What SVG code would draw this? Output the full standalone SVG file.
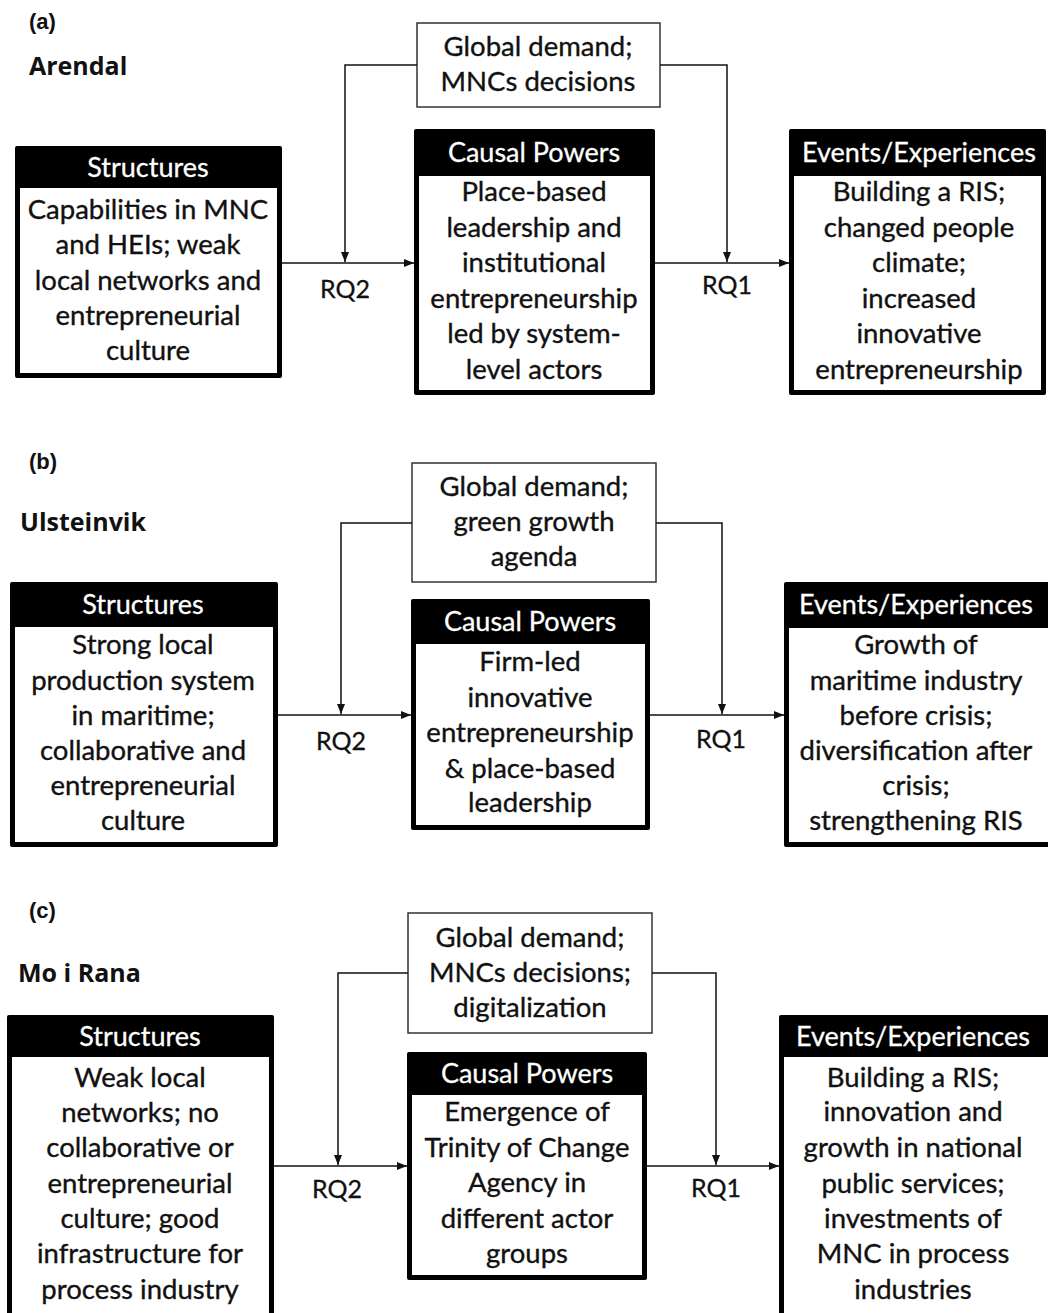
<svg xmlns="http://www.w3.org/2000/svg" width="1048" height="1313" viewBox="0 0 1048 1313">
<defs>
<marker id="ah" viewBox="0 0 10 10" refX="10" refY="5" markerWidth="10" markerHeight="10" markerUnits="userSpaceOnUse" orient="auto">
<path d="M0,1 L10,5 L0,9 Z" fill="#111"/>
</marker>
<style>
.frame{fill:#000}
.inner{fill:#fff}
.ext{fill:#fff;stroke:#333;stroke-width:1.5}
.hd{font-family:Lato,"Liberation Sans",sans-serif;font-size:27px;fill:#fff;stroke:#fff;stroke-width:0.3;text-anchor:middle}
.bd{font-family:Lato,"Liberation Sans",sans-serif;font-size:27.5px;fill:#111;stroke:#111;stroke-width:0.35;text-anchor:middle}
.rq{font-family:Lato,"Liberation Sans",sans-serif;font-size:25px;fill:#111;stroke:#111;stroke-width:0.3;text-anchor:middle}
.pl{font-family:"Liberation Sans",Arial,sans-serif;font-size:22px;font-weight:bold;fill:#111}
.city{font-family:"Open Sans","Liberation Sans",sans-serif;font-size:25px;font-weight:bold;fill:#111}
.conn{fill:none;stroke:#111;stroke-width:1.5}
</style>
</defs>
<rect width="1048" height="1313" fill="#fff"/>

<!-- Panel labels -->
<g id="labels">
<text class="pl" x="29" y="29">(a)</text>
<text class="city" x="29" y="75">Arendal</text>
<text class="pl" x="29" y="469">(b)</text>
<text class="city" x="20" y="531">Ulsteinvik</text>
<text class="pl" x="29" y="918">(c)</text>
<text class="city" x="18" y="982">Mo i Rana</text>
</g>

<!-- Panel (a) -->
<g id="a-global">
<rect class="ext" x="417" y="23" width="243" height="84"/>
<text class="bd" x="538"><tspan x="538" y="56">Global demand;</tspan><tspan x="538" y="91">MNCs decisions</tspan></text>
</g>
<g id="a-structures">
<rect class="frame" x="15" y="146" width="267" height="232" rx="2"/>
<rect class="inner" x="20" y="188" width="257" height="185"/>
<text class="hd" x="148" y="177">Structures</text>
<text class="bd"><tspan x="148" y="219">Capabilities in MNC</tspan><tspan x="148" y="254">and HEIs; weak</tspan><tspan x="148" y="290">local networks and</tspan><tspan x="148" y="325">entrepreneurial</tspan><tspan x="148" y="360">culture</tspan></text>
</g>
<g id="a-causal">
<rect class="frame" x="414" y="129" width="241" height="266" rx="2"/>
<rect class="inner" x="419" y="176" width="231" height="214"/>
<text class="hd" x="534" y="162">Causal Powers</text>
<text class="bd"><tspan x="534" y="201">Place-based</tspan><tspan x="534" y="237">leadership and</tspan><tspan x="534" y="272">institutional</tspan><tspan x="534" y="308">entrepreneurship</tspan><tspan x="534" y="343">led by system-</tspan><tspan x="534" y="379">level actors</tspan></text>
</g>
<g id="a-events">
<rect class="frame" x="789" y="129" width="257" height="266" rx="2"/>
<rect class="inner" x="794" y="176" width="247" height="214"/>
<text class="hd" x="919" y="162">Events/Experiences</text>
<text class="bd"><tspan x="919" y="201">Building a RIS;</tspan><tspan x="919" y="237">changed people</tspan><tspan x="919" y="272">climate;</tspan><tspan x="919" y="308">increased</tspan><tspan x="919" y="343">innovative</tspan><tspan x="919" y="379">entrepreneurship</tspan></text>
</g>

<!-- Panel (b) -->
<g id="b-global">
<rect class="ext" x="412" y="463" width="244" height="119"/>
<text class="bd"><tspan x="534" y="496">Global demand;</tspan><tspan x="534" y="531">green growth</tspan><tspan x="534" y="566">agenda</tspan></text>
</g>
<g id="b-structures">
<rect class="frame" x="10" y="582" width="268" height="265" rx="2"/>
<rect class="inner" x="15" y="627" width="258" height="215"/>
<text class="hd" x="143" y="614">Structures</text>
<text class="bd"><tspan x="143" y="654">Strong local</tspan><tspan x="143" y="690">production system</tspan><tspan x="143" y="725">in maritime;</tspan><tspan x="143" y="760">collaborative and</tspan><tspan x="143" y="795">entrepreneurial</tspan><tspan x="143" y="830">culture</tspan></text>
</g>
<g id="b-causal">
<rect class="frame" x="411" y="599" width="239" height="231" rx="2"/>
<rect class="inner" x="416" y="644" width="229" height="181"/>
<text class="hd" x="530" y="631">Causal Powers</text>
<text class="bd"><tspan x="530" y="671">Firm-led</tspan><tspan x="530" y="707">innovative</tspan><tspan x="530" y="742">entrepreneurship</tspan><tspan x="530" y="778">&amp; place-based</tspan><tspan x="530" y="812">leadership</tspan></text>
</g>
<g id="b-events">
<rect class="frame" x="784" y="582" width="270" height="265" rx="2"/>
<rect class="inner" x="789" y="628" width="265" height="214"/>
<text class="hd" x="916" y="614">Events/Experiences</text>
<text class="bd"><tspan x="916" y="654">Growth of</tspan><tspan x="916" y="690">maritime industry</tspan><tspan x="916" y="725">before crisis;</tspan><tspan x="916" y="760">diversification after</tspan><tspan x="916" y="795">crisis;</tspan><tspan x="916" y="830">strengthening RIS</tspan></text>
</g>

<!-- Panel (c) -->
<g id="c-global">
<rect class="ext" x="408" y="913" width="244" height="120"/>
<text class="bd"><tspan x="530" y="947">Global demand;</tspan><tspan x="530" y="982">MNCs decisions;</tspan><tspan x="530" y="1017">digitalization</tspan></text>
</g>
<g id="c-structures">
<rect class="frame" x="7" y="1015" width="267" height="310" rx="2"/>
<rect class="inner" x="12" y="1057" width="257" height="270"/>
<text class="hd" x="140" y="1046">Structures</text>
<text class="bd"><tspan x="140" y="1087">Weak local</tspan><tspan x="140" y="1122">networks; no</tspan><tspan x="140" y="1157">collaborative or</tspan><tspan x="140" y="1193">entrepreneurial</tspan><tspan x="140" y="1228">culture; good</tspan><tspan x="140" y="1263">infrastructure for</tspan><tspan x="140" y="1299">process industry</tspan></text>
</g>
<g id="c-causal">
<rect class="frame" x="407" y="1052" width="240" height="228" rx="2"/>
<rect class="inner" x="412" y="1095" width="230" height="180"/>
<text class="hd" x="527" y="1083">Causal Powers</text>
<text class="bd"><tspan x="527" y="1121">Emergence of</tspan><tspan x="527" y="1157">Trinity of Change</tspan><tspan x="527" y="1192">Agency in</tspan><tspan x="527" y="1228">different actor</tspan><tspan x="527" y="1263">groups</tspan></text>
</g>
<g id="c-events">
<rect class="frame" x="779" y="1015" width="275" height="310" rx="2"/>
<rect class="inner" x="784" y="1057" width="270" height="270"/>
<text class="hd" x="913" y="1046">Events/Experiences</text>
<text class="bd"><tspan x="913" y="1087">Building a RIS;</tspan><tspan x="913" y="1121">innovation and</tspan><tspan x="913" y="1157">growth in national</tspan><tspan x="913" y="1193">public services;</tspan><tspan x="913" y="1228">investments of</tspan><tspan x="913" y="1263">MNC in process</tspan><tspan x="913" y="1299">industries</tspan></text>
</g>

<!-- Connectors -->
<g id="connectors">
<path class="conn" d="M417,65 H345 V262" marker-end="url(#ah)"/>
<path class="conn" d="M660,65 H727 V262" marker-end="url(#ah)"/>
<path class="conn" d="M282,263 H414" marker-end="url(#ah)"/>
<path class="conn" d="M655,263 H789" marker-end="url(#ah)"/>
<text class="rq" x="345" y="298">RQ2</text>
<text class="rq" x="727" y="294">RQ1</text>

<path class="conn" d="M412,523 H341 V714" marker-end="url(#ah)"/>
<path class="conn" d="M656,523 H722 V714" marker-end="url(#ah)"/>
<path class="conn" d="M278,715 H411" marker-end="url(#ah)"/>
<path class="conn" d="M650,715 H784" marker-end="url(#ah)"/>
<text class="rq" x="341" y="750">RQ2</text>
<text class="rq" x="721" y="748">RQ1</text>

<path class="conn" d="M408,973 H338 V1165" marker-end="url(#ah)"/>
<path class="conn" d="M652,973 H716 V1165" marker-end="url(#ah)"/>
<path class="conn" d="M274,1166 H407" marker-end="url(#ah)"/>
<path class="conn" d="M647,1166 H779" marker-end="url(#ah)"/>
<text class="rq" x="337" y="1198">RQ2</text>
<text class="rq" x="716" y="1197">RQ1</text>
</g>
</svg>
